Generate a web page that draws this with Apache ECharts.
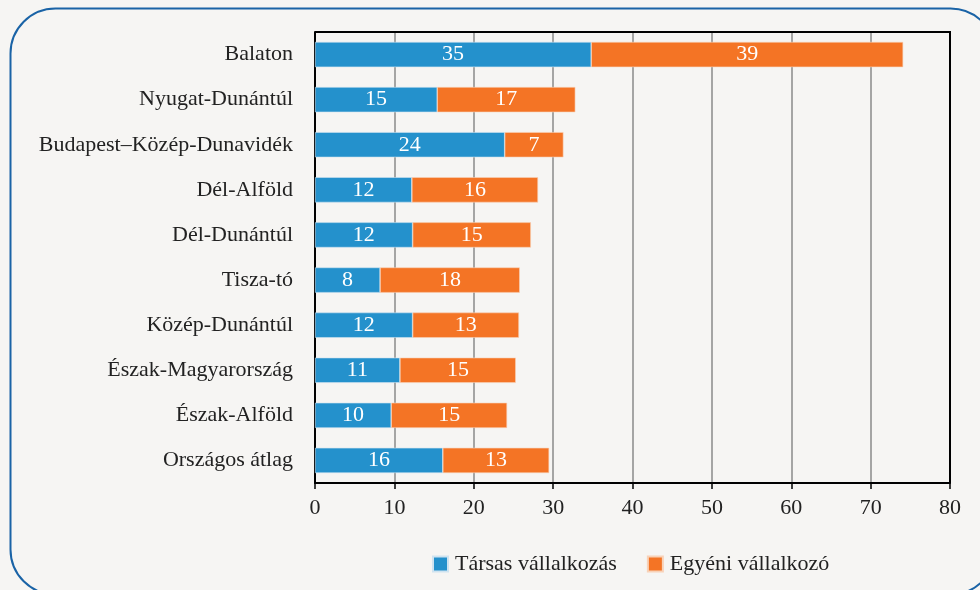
<!DOCTYPE html>
<html>
<head>
<meta charset="utf-8">
<script src="https://cdn.jsdelivr.net/npm/echarts@6/dist/echarts.min.js"></script>
<style>
  html, body { margin: 0; padding: 0; background: #f6f5f3; }
  #chart { width: 980px; height: 590px; }
</style>
</head>
<body>
<div id="chart"></div>
<script>
// regions, top to bottom
const categories = [
  'Balaton', 'Nyugat-Dunántúl', 'Budapest–Közép-Dunavidék', 'Dél-Alföld',
  'Dél-Dunántúl', 'Tisza-tó', 'Közép-Dunántúl', 'Észak-Magyarország',
  'Észak-Alföld', 'Országos átlag'
];
const tarsas = [34.8, 15.4, 23.9, 12.2, 12.3, 8.2, 12.3, 10.7, 9.6, 16.1];
const egyeni = [39.3, 17.4, 7.4, 15.9, 14.9, 17.6, 13.4, 14.6, 14.6, 13.4];
const seriesNames = ['Társas vállalkozás', 'Egyéni vállalkozó'];

const font = '"Liberation Serif", "DejaVu Serif", serif';
const fs = 22;
const chart = echarts.init(document.getElementById('chart'));

const barLabel = {
  show: true,
  position: 'inside',
  color: '#fff',
  fontFamily: font,
  fontSize: fs,
  formatter: p => Math.round(p.value)
};

const frame = {
  type: 'rect',
  left: 8, top: 6,
  shape: { width: 985, height: 586, r: 45 },
  style: { fill: 'none', stroke: '#1a63a6', lineWidth: 2 },
  silent: true
};

chart.setOption({
  backgroundColor: '#f6f5f3',
  animation: false,
  graphic: [frame],
  grid: { left: 315, right: 30, top: 32, bottom: 107, containLabel: false },
  legend: {
    top: 548,
    left: 427,
    itemWidth: 15, itemHeight: 15,
    itemGap: 30,
    icon: 'rect',
    textStyle: { fontFamily: font, fontSize: fs, color: '#222', padding: [0, 0, 0, 2] },
    data: seriesNames
  },
  xAxis: {
    type: 'value',
    min: 0, max: 80, interval: 10,
    axisLine: { show: true, lineStyle: { color: '#000', width: 2 } },
    axisTick: { show: true, length: 6, lineStyle: { color: '#000', width: 1.5 } },
    axisLabel: { fontFamily: font, fontSize: fs, color: '#222', margin: 14 },
    splitLine: { show: true, lineStyle: { color: '#8a8a8a', width: 1.5 } }
  },
  yAxis: {
    type: 'category',
    inverse: true,
    data: categories,
    axisLine: { show: true, lineStyle: { color: '#000', width: 2 } },
    axisTick: { show: false },
    axisLabel: { fontFamily: font, fontSize: fs, color: '#222', margin: 22 }
  },
  series: [
    {
      name: seriesNames[0], type: 'bar', stack: 'total',
      data: tarsas, barWidth: '56%',
      itemStyle: { color: '#2491cc', borderColor: '#cfe3f0', borderWidth: 0.6 },
      label: barLabel
    },
    {
      name: seriesNames[1], type: 'bar', stack: 'total',
      data: egyeni, barWidth: '56%',
      itemStyle: { color: '#f47425', borderColor: '#f8d2b8', borderWidth: 0.6 },
      label: barLabel
    }
  ]
});

// close the plot frame on top and right
const x0 = chart.convertToPixel({ xAxisIndex: 0 }, 0);
const x1 = chart.convertToPixel({ xAxisIndex: 0 }, 80);
chart.setOption({
  graphic: [frame, {
    type: 'polyline', silent: true, z: 10,
    shape: { points: [[x0, 32], [x1, 32], [x1, 483]] },
    style: { fill: 'none', stroke: '#000', lineWidth: 2 }
  }]
});
</script>
</body>
</html>
